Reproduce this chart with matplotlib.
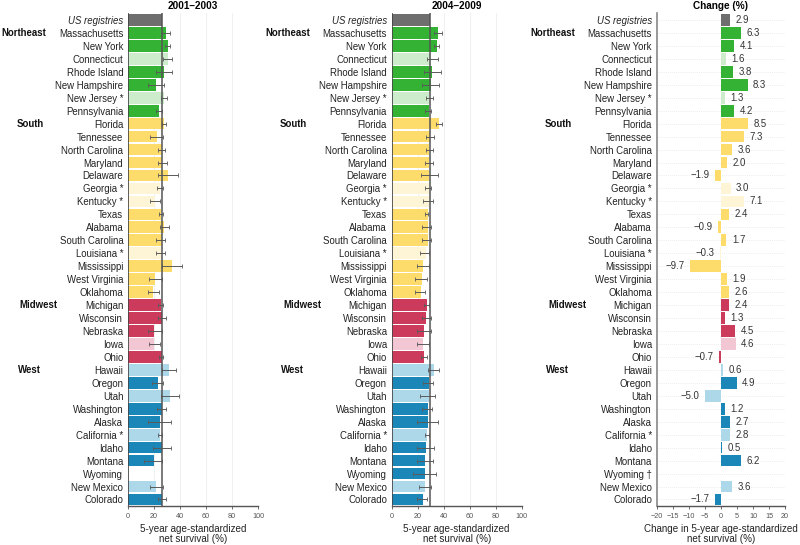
import matplotlib
matplotlib.use("Agg")
import matplotlib.pyplot as plt
import numpy as np

plt.rcParams['font.family'] = ['Liberation Sans', 'DejaVu Sans']

# rows, top to bottom
states = ["US registries",
          "Massachusetts", "New York", "Connecticut", "Rhode Island", "New Hampshire",
          "New Jersey *", "Pennsylvania",
          "Florida", "Tennessee", "North Carolina", "Maryland", "Delaware", "Georgia *",
          "Kentucky *", "Texas", "Alabama", "South Carolina", "Louisiana *", "Mississippi",
          "West Virginia", "Oklahoma",
          "Michigan", "Wisconsin", "Nebraska", "Iowa", "Ohio",
          "Hawaii", "Oregon", "Utah", "Washington", "Alaska", "California *", "Idaho",
          "Montana", "Wyoming", "New Mexico", "Colorado"]
region = (["US"] + ["Northeast"] * 7 + ["South"] * 14 + ["Midwest"] * 5 + ["West"] * 11)
light = ["Connecticut", "New Jersey *", "Georgia *", "Kentucky *", "Louisiana *",
         "Iowa", "Hawaii", "Utah", "California *", "New Mexico"]

surv_0103 = [26.3, 29.1, 30.4, 30.4, 27.6, 21.9, 27.8, 24.0,
             27.6, 22.4, 26.3, 26.3, 30.7, 24.5, 20.6, 25.5, 27.8, 25.8, 25.3, 34.0, 21.1, 19.3,
             25.0, 25.8, 20.1, 19.8, 26.5,
             31.4, 22.9, 32.2, 26.5, 24.7, 24.5, 26.5, 19.8, np.nan, 21.6, 26.5]
lo_0103 = [np.nan, 26.5, 28.1, 27.1, 21.4, 15.5, 25.5, 21.9,
           25.8, 17.3, 22.9, 23.2, 22.9, 22.4, 17.3, 23.7, 24.5, 21.9, 21.9, 26.5, 16.2, 15.7,
           23.2, 23.2, 15.2, 16.0, 23.7,
           26.5, 18.3, 25.5, 22.4, 15.7, 22.9, 19.3, 12.4, np.nan, 17.0, 23.2]
hi_0103 = [np.nan, 32.2, 32.2, 34.0, 33.5, 27.6, 29.9, 26.0,
           28.9, 27.3, 28.1, 29.9, 38.7, 27.3, 24.5, 27.1, 31.4, 28.6, 28.6, 41.2, 26.0, 23.5,
           27.3, 28.9, 26.0, 24.5, 27.3,
           36.9, 27.1, 39.4, 29.4, 33.2, 26.0, 33.2, 26.5, np.nan, 27.1, 29.6]

surv_0409 = [29.2, 35.4, 34.9, 30.0, 31.3, 30.0, 28.7, 28.7,
             36.4, 29.5, 29.0, 28.7, 28.5, 28.5, 28.7, 27.7, 28.2, 27.7, 26.7, 24.1, 23.3, 22.6,
             27.4, 26.7, 25.1, 24.4, 24.9,
             32.3, 28.5, 28.5, 27.9, 28.2, 27.2, 26.4, 25.9, 25.6, 25.4, 24.1]
lo_0409 = [np.nan, 32.6, 32.8, 26.9, 25.1, 23.6, 26.4, 25.4,
           34.1, 26.4, 26.4, 25.4, 22.3, 25.4, 24.4, 25.4, 23.6, 23.3, 22.1, 19.5, 17.9, 18.2,
           24.9, 23.1, 19.2, 19.7, 22.6,
           27.7, 23.8, 22.1, 23.1, 19.2, 25.4, 19.7, 19.5, 16.2, 20.8, 19.7]
hi_0409 = [np.nan, 38.5, 36.4, 35.6, 37.7, 36.2, 31.5, 30.3,
           38.5, 32.6, 31.8, 32.1, 35.4, 30.5, 31.5, 28.2, 30.5, 30.5, 29.0, 29.0, 27.2, 25.9,
           28.5, 30.3, 30.0, 29.0, 26.9,
           36.7, 31.5, 33.3, 30.8, 35.9, 28.7, 32.8, 32.1, 34.4, 30.0, 27.4]

change = [2.9, 6.3, 4.1, 1.6, 3.8, 8.3, 1.3, 4.2,
          8.5, 7.3, 3.6, 2.0, -1.9, 3.0, 7.1, 2.4, -0.9, 1.7, -0.3, -9.7, 1.9, 2.6,
          2.4, 1.3, 4.5, 4.6, -0.7,
          0.6, 4.9, -5.0, 1.2, 2.7, 2.8, 0.5, 6.2, np.nan, 3.6, -1.7]

region_first = {"Northeast": "Massachusetts", "South": "Florida",
                "Midwest": "Michigan", "West": "Hawaii"}
region_offset = {"Northeast": -91, "South": -80.5, "Midwest": -78, "West": -79.5}

dark = {"US": "#6e6e6e", "Northeast": "#33b233", "South": "#fddc6b",
        "Midwest": "#cc3a5c", "West": "#1a87b8"}
pale = {"Northeast": "#cdeccb", "South": "#fef5d6", "Midwest": "#f2c6d3", "West": "#acd8ea"}
colors = [pale[r] if s in light else dark[r] for s, r in zip(states, region)]

y = np.arange(len(states))
FS = 6.9


def setup_rows(ax, names):
    ax.set_ylim(len(states) - 0.5, -0.5)
    ax.set_yticks(y)
    ax.set_yticklabels(names, fontsize=FS, color="#222222")
    ax.get_yticklabels()[0].set_style("italic")
    ax.tick_params(axis="y", length=0, pad=3.4)
    ax.tick_params(axis="x", length=2.2, width=0.6, labelsize=5.2, colors="#555555", pad=3)
    for side in ["top", "right"]:
        ax.spines[side].set_visible(False)
    ax.spines["bottom"].set_color("#555555")
    ax.spines["bottom"].set_linewidth(1.0)
    for reg, first in region_first.items():
        ax.annotate(reg, xy=(0, states.index(first)), xycoords=("axes fraction", "data"),
                    xytext=(region_offset[reg], 0), textcoords="offset points",
                    ha="left", va="center", fontsize=FS, fontweight="bold", color="#111111")


def survival_panel(ax, vals, lo, hi, title):
    vals = np.array(vals, dtype=float)
    err = np.vstack([vals - np.array(lo), np.array(hi) - vals])
    ax.set_axisbelow(True)
    ax.grid(axis="x", color="#f0f0f0", linewidth=0.7)
    ax.barh(y, np.nan_to_num(vals), height=0.9, color=colors, edgecolor="none")
    ax.errorbar(vals, y, xerr=err, fmt="none", ecolor="#5a5a5a", elinewidth=0.7,
                capsize=1.3, capthick=0.6)
    ax.axvline(vals[0], color="#555555", linewidth=1.1, zorder=3)
    ax.set_xlim(0, 100)
    ax.set_xticks([0, 20, 40, 60, 80, 100])
    ax.set_xlabel("5-year age-standardized\nnet survival (%)", fontsize=FS + 0.2,
                  color="#222222", labelpad=3, linespacing=1.0)
    ax.set_title(title, fontsize=FS + 0.3, fontweight="bold", pad=3)
    ax.spines["left"].set_color("#444444")
    ax.spines["left"].set_linewidth(0.6)
    setup_rows(ax, states)


fig = plt.figure(figsize=(8, 5.45), dpi=100)
ax1 = fig.add_axes([0.160, 0.0716, 0.1625, 0.9037])
ax2 = fig.add_axes([0.4896, 0.0716, 0.1625, 0.9037])
ax3 = fig.add_axes([0.8209, 0.0716, 0.1604, 0.9037])

survival_panel(ax1, surv_0103, lo_0103, hi_0103, "2001\u20132003")
survival_panel(ax2, surv_0409, lo_0409, hi_0409, "2004\u20132009")

# change panel
chg = np.array(change, dtype=float)
ax3.set_axisbelow(True)
ax3.grid(axis="y", color="#e6e6e6", linewidth=0.6, linestyle=(0, (1, 1.5)))
ax3.barh(y, np.nan_to_num(chg), height=0.9, color=colors, edgecolor="none")
for yi, v in zip(y, chg):
    if np.isnan(v):
        continue
    txt = f"{v:.1f}".replace("-", "\u2212")
    if v >= 0:
        ax3.annotate(txt, xy=(v, yi), xytext=(4, 0), textcoords="offset points",
                     ha="left", va="center", fontsize=FS, color="#333333")
    else:
        ax3.annotate(txt, xy=(v, yi), xytext=(-4, 0), textcoords="offset points",
                     ha="right", va="center", fontsize=FS, color="#333333")
ax3.set_xlim(-20, 20)
ax3.set_xticks(np.arange(-20, 21, 5))
ax3.set_xticklabels([str(t).replace("-", "\u2212") for t in range(-20, 21, 5)])
ax3.set_xlabel("Change in 5-year age-standardized\nnet survival (%)", fontsize=FS + 0.2,
               color="#222222", labelpad=3, linespacing=1.0)
ax3.set_title("Change (%)", fontsize=FS + 0.3, fontweight="bold", pad=3)
ax3.spines["left"].set_color("#888888")
ax3.spines["left"].set_linewidth(1.2)
setup_rows(ax3, [s if s != "Wyoming" else "Wyoming \u2020" for s in states])

fig.savefig("out.png", dpi=100, facecolor="white")
